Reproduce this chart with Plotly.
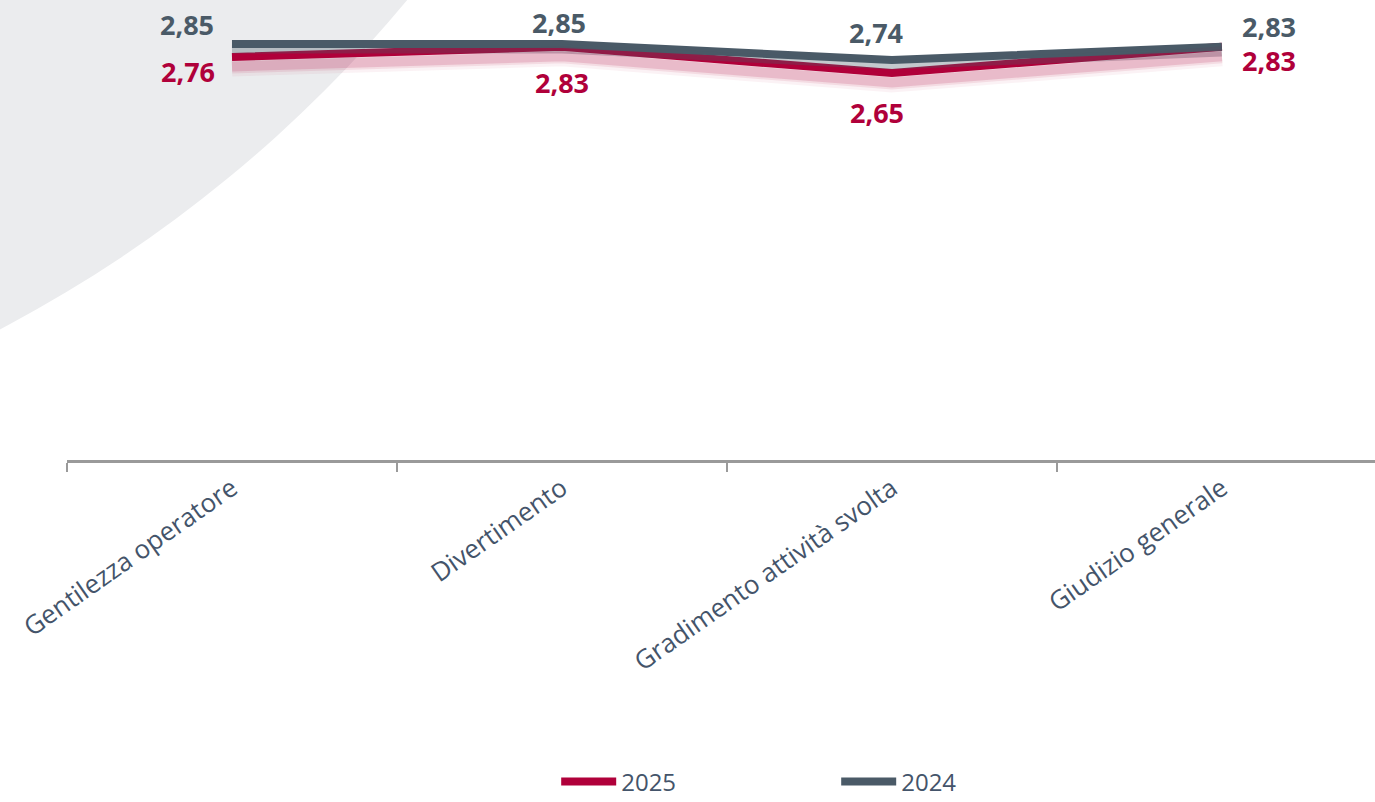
import plotly.graph_objects as go

# ---- data ----
categories = ["Gentilezza operatore", "Divertimento", "Gradimento attività svolta", "Giudizio generale"]
series_names = ["2025", "2024"]
values_2025 = [2.76, 2.83, 2.65, 2.83]
values_2024 = [2.85, 2.85, 2.74, 2.83]

# ---- styles ----
RED = "#B0003A"
GRAY = "#4A5A67"
TICK_COLOR = "#44546A"
FONT = "Open Sans, Liberation Sans, Arial, sans-serif"

# label offsets (px) relative to each point: (xshift, yshift)
offs_2025 = [(-44, -14), (0, -36), (-15, -39), (47, -14)]
offs_2024 = [(-45, 19), (-3, 21), (-16, 27), (47, 20)]

fig = go.Figure()

# soft shadow traces (on offset overlay axes so they sit a few px under the lines)
for w, a in [(20, 0.05), (14, 0.09), (10, 0.15)]:
    fig.add_trace(go.Scatter(x=categories, y=values_2025, mode="lines", yaxis="y3",
                             line=dict(color=f"rgba(176,0,58,{a})", width=w),
                             showlegend=False, hoverinfo="skip"))
fig.add_trace(go.Scatter(x=categories, y=values_2025, mode="lines", name=series_names[0],
                         line=dict(color=RED, width=8), hoverinfo="skip"))
fig.add_trace(go.Scatter(x=categories, y=values_2024, mode="lines", yaxis="y2",
                         line=dict(color="rgba(74,90,103,0.33)", width=9),
                         showlegend=False, hoverinfo="skip"))
fig.add_trace(go.Scatter(x=categories, y=values_2024, mode="lines", name=series_names[1],
                         line=dict(color=GRAY, width=8), hoverinfo="skip"))

def fmt(v):
    return f"{v:.2f}".replace(".", ",")

annotations = []
for cat, v, (dx, dy) in zip(categories, values_2025, offs_2025):
    annotations.append(dict(x=cat, y=v, xref="x", yref="y", text=fmt(v), showarrow=False,
                            xshift=dx, yshift=dy,
                            font=dict(family=FONT, size=27, color=RED, weight="bold")))
for cat, v, (dx, dy) in zip(categories, values_2024, offs_2024):
    annotations.append(dict(x=cat, y=v, xref="x", yref="y", text=fmt(v), showarrow=False,
                            xshift=dx, yshift=dy,
                            font=dict(family=FONT, size=27, color=GRAY, weight="bold")))

# background circle (decorative), in paper coordinates
shapes = [dict(type="circle", xref="paper", yref="paper", layer="below",
               x0=-1.552, x1=0.497, y0=-0.0525, y1=6.066,
               fillcolor="#EBECEE", line=dict(width=0))]

fig.update_layout(
    width=1375, height=802,
    margin=dict(l=67, r=0, t=22, b=342, autoexpand=False),
    paper_bgcolor="white", plot_bgcolor="rgba(0,0,0,0)",
    font=dict(family=FONT, color=TICK_COLOR),
    xaxis=dict(type="category", range=[-0.5, 3.464], tickson="boundaries",
               ticks="outside", ticklen=9, tickwidth=2, tickcolor="#9A9A9A",
               showline=True, linecolor="#9A9A9A", linewidth=3,
               showgrid=False, zeroline=False, tickangle=-35, automargin=False,
               tickfont=dict(family=FONT, size=26, color=TICK_COLOR)),
    yaxis=dict(range=[0, 3], visible=False, showgrid=False, zeroline=False),
    yaxis2=dict(range=[0.035, 3.035], overlaying="y", visible=False),
    yaxis3=dict(range=[0.065, 3.065], overlaying="y", visible=False),
    showlegend=True,
    legend=dict(orientation="h", x=0.374, y=-0.735, xanchor="left", yanchor="middle",
                itemwidth=55, entrywidth=210,
                font=dict(family=FONT, size=24, color=TICK_COLOR),
                bgcolor="rgba(0,0,0,0)"),
    annotations=annotations,
    shapes=shapes,
)

fig.write_html("out.html", config={"displayModeBar": False},
               post_script="document.body.style.margin='0';document.body.style.overflow='hidden';")
